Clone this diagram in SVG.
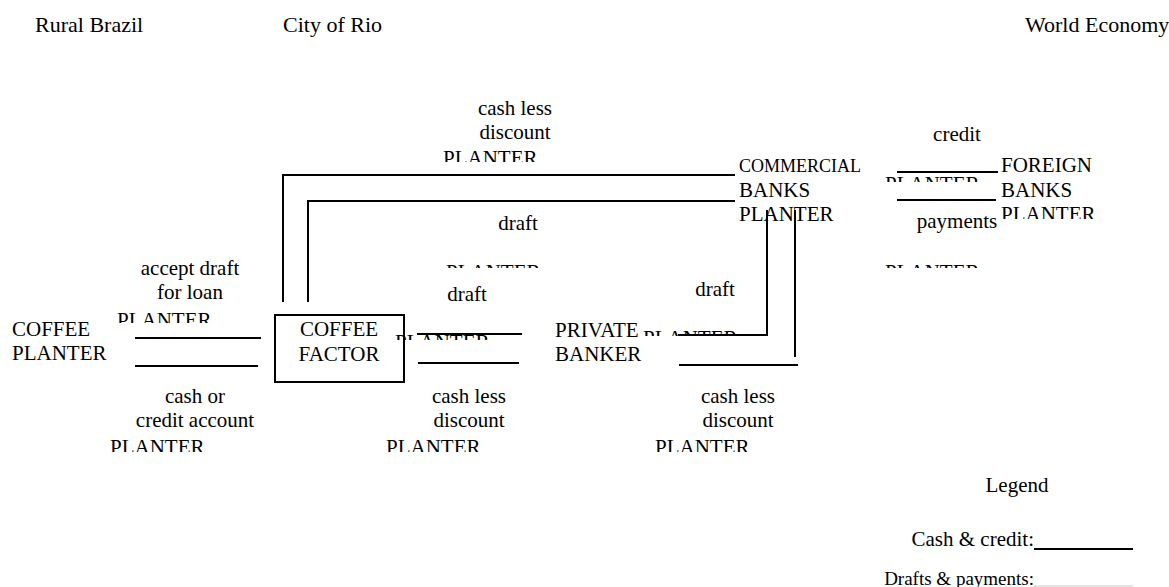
<svg xmlns="http://www.w3.org/2000/svg" width="1169" height="587" viewBox="0 0 1169 587">
<style>
text{font-family:"Liberation Serif","Times New Roman",serif;font-size:21px;fill:#000}
.c{text-anchor:middle}
.h{font-size:22px}
.ln{stroke:#000;stroke-width:2;fill:none}
.thin{stroke:#c8c8c8;stroke-width:1;fill:none}
</style>
<defs>
<clipPath id="k1"><rect x="430" y="140" width="120" height="22"/></clipPath>
<clipPath id="k2"><rect x="875" y="170" width="120" height="12"/></clipPath>
<clipPath id="k4"><rect x="995" y="200" width="120" height="19"/></clipPath>
<clipPath id="k5"><rect x="435" y="260" width="120" height="8"/></clipPath>
<clipPath id="k6"><rect x="875" y="260" width="120" height="8"/></clipPath>
<clipPath id="k7"><rect x="105" y="305" width="120" height="18"/></clipPath>
<clipPath id="k8"><rect x="385" y="330" width="120" height="10"/></clipPath>
<clipPath id="k9"><rect x="635" y="325" width="120" height="11"/></clipPath>
<clipPath id="k10"><rect x="0" y="430" width="1169" height="22"/></clipPath>
</defs>
<g id="headers">
<text class="h" x="35" y="32">Rural Brazil</text>
<text class="h" x="283" y="32">City of Rio</text>
<text class="h" x="1025" y="32">World Economy</text>
</g>
<g id="connectors">
<polyline class="ln" points="283,302 283,175 735,175"/>
<polyline class="ln" points="308,302 308,201 735,201"/>
<line class="ln" x1="897" y1="172" x2="998" y2="172"/>
<line class="ln" x1="897" y1="200" x2="996" y2="200"/>
<line class="ln" x1="135" y1="338" x2="261" y2="338"/>
<line class="ln" x1="135" y1="366" x2="258" y2="366"/>
<line class="ln" x1="417" y1="334" x2="522" y2="334"/>
<line class="ln" x1="418" y1="363" x2="519" y2="363"/>
<polyline class="ln" points="678,335 767,335 767,210"/>
<line class="ln" x1="795" y1="210" x2="795" y2="357"/>
<line class="ln" x1="679" y1="365" x2="798" y2="365"/>
</g>
<g id="labels">
<text class="c" x="515" y="115">cash less</text>
<text class="c" x="515" y="139">discount</text>
<text x="443" y="165" clip-path="url(#k1)">PLANTER</text>
<text class="c" x="957" y="141">credit</text>
<text x="885" y="191" clip-path="url(#k2)">PLANTER</text>
<text class="c" x="518" y="230">draft</text>
<text class="c" x="957" y="228">payments</text>
<text x="446" y="279" clip-path="url(#k5)">PLANTER</text>
<text x="885" y="279" clip-path="url(#k6)">PLANTER</text>
<text class="c" x="190" y="275">accept draft</text>
<text class="c" x="190" y="299">for loan</text>
<text x="117" y="327" clip-path="url(#k7)">PLANTER</text>
<text class="c" x="467" y="301">draft</text>
<text class="c" x="715" y="296">draft</text>
<text x="395" y="349" clip-path="url(#k8)">PLANTER</text>
<text x="643" y="345" clip-path="url(#k9)">PLANTER</text>
<text class="c" x="195" y="403">cash or</text>
<text class="c" x="195" y="427">credit account</text>
<text x="110" y="454" clip-path="url(#k10)">PLANTER</text>
<text class="c" x="469" y="403">cash less</text>
<text class="c" x="469" y="427">discount</text>
<text x="386" y="454" clip-path="url(#k10)">PLANTER</text>
<text class="c" x="738" y="403">cash less</text>
<text class="c" x="738" y="427">discount</text>
<text x="655" y="454" clip-path="url(#k10)">PLANTER</text>
</g>
<g id="coffee-planter">
<text x="12" y="336">COFFEE</text>
<text x="12" y="360">PLANTER</text>
</g>
<g id="coffee-factor">
<rect class="ln" x="275" y="315" width="129" height="67"/>
<text class="c" x="339" y="336">COFFEE</text>
<text class="c" x="339" y="361">FACTOR</text>
</g>
<g id="private-banker">
<text x="555" y="337">PRIVATE</text>
<text x="555" y="361">BANKER</text>
</g>
<g id="commercial-banks">
<text x="739" y="172" style="font-size:18px">COMMERCIAL</text>
<text x="739" y="197">BANKS</text>
<text x="739" y="221">PLANTER</text>
</g>
<g id="foreign-banks">
<text x="1001" y="172">FOREIGN</text>
<text x="1001" y="197">BANKS</text>
<text x="1001" y="221" clip-path="url(#k4)">PLANTER</text>
</g>
<g id="legend">
<text class="c" x="1017" y="492">Legend</text>
<text x="1034" y="546" style="text-anchor:end">Cash &amp; credit:</text>
<line class="ln" x1="1034" y1="549" x2="1133" y2="549"/>
<text x="1034" y="585" style="text-anchor:end;font-size:19px">Drafts &amp; payments:</text>
<line class="thin" x1="1034" y1="586" x2="1133" y2="586"/>
</g>
</svg>
